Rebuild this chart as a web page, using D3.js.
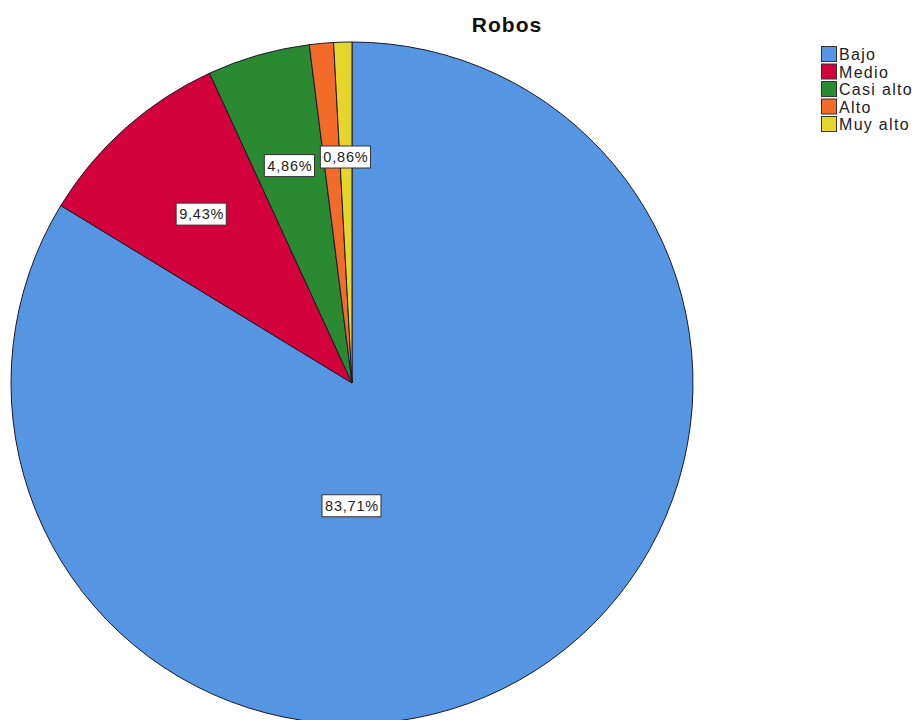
<!DOCTYPE html>
<html><head><meta charset="utf-8">
<script src="https://cdn.jsdelivr.net/npm/d3@7"></script>
<style>body{margin:0;background:#fff}svg{display:block}</style>
</head><body>
<script>
const categories = ["Bajo","Medio","Casi alto","Alto","Muy alto"];
const values = [83.71, 9.43, 4.86, 1.14, 0.86];
const labelTexts = ["83,71%","9,43%","4,86%","","0,86%"];
const colors = ["#5595e2","#d2003b","#2a8a32","#f26b28","#e6d52a"];

const W = 923, H = 720;
const cx = 352, cy = 383, R = 341;
const FONT = "Liberation Sans, Arial, sans-serif";
const svg = d3.select("body").append("svg").attr("width", W).attr("height", H);

svg.append("text").attr("x", 507).attr("y", 32).attr("text-anchor","middle")
  .attr("font-family", FONT).attr("font-weight","bold").attr("letter-spacing", 1)
  .attr("font-size", 21).attr("fill","#111").text("Robos");

const pie = d3.pie().sort(null).value(d => d.v);
const data = categories.map((c,i)=>({c, v: values[i], lab: labelTexts[i], col: colors[i]}));
const arcs = pie(data);
const arc = d3.arc().innerRadius(0).outerRadius(R);
const g = svg.append("g").attr("transform", `translate(${cx},${cy})`);
g.selectAll("path").data(arcs).join("path").attr("d", arc)
  .attr("fill", d => d.data.col).attr("stroke", "#1a1a2a").attr("stroke-width", 1);

const labG = g.append("g").attr("font-family", FONT).attr("font-size", 14.5).attr("letter-spacing", 0.8);
arcs.forEach((a,i) => {
  if (!a.data.lab) return;
  let x, y;
  if (a.data.v > 50) { x = 0; y = R * 0.36; }
  else {
    const m = (a.startAngle + a.endAngle) / 2, d = R * 0.663;
    x = Math.sin(m) * d; y = -Math.cos(m) * d;
  }
  const t = labG.append("text").attr("x", x).attr("y", y).attr("text-anchor","middle")
    .attr("dominant-baseline","central").attr("fill","#222").text(a.data.lab);
  const b = t.node().getBBox();
  labG.insert("rect", () => t.node()).attr("x", b.x - 3).attr("y", y - 11).attr("width", b.width + 5).attr("height", 22)
    .attr("fill", "#fff").attr("stroke", "#333").attr("stroke-width", 1);
});

const leg = svg.append("g").attr("font-family", FONT).attr("font-size", 16).attr("letter-spacing", 1.3);
categories.forEach((c,i) => {
  const y = 46 + i * 17.5;
  leg.append("rect").attr("x", 821.5).attr("y", y + 0.5).attr("width", 15).attr("height", 15)
    .attr("fill", colors[i]).attr("stroke", "#333").attr("stroke-width", 1);
  leg.append("text").attr("x", 839).attr("y", y + 14).attr("fill", "#222").text(c);
});
</script>
</body></html>
